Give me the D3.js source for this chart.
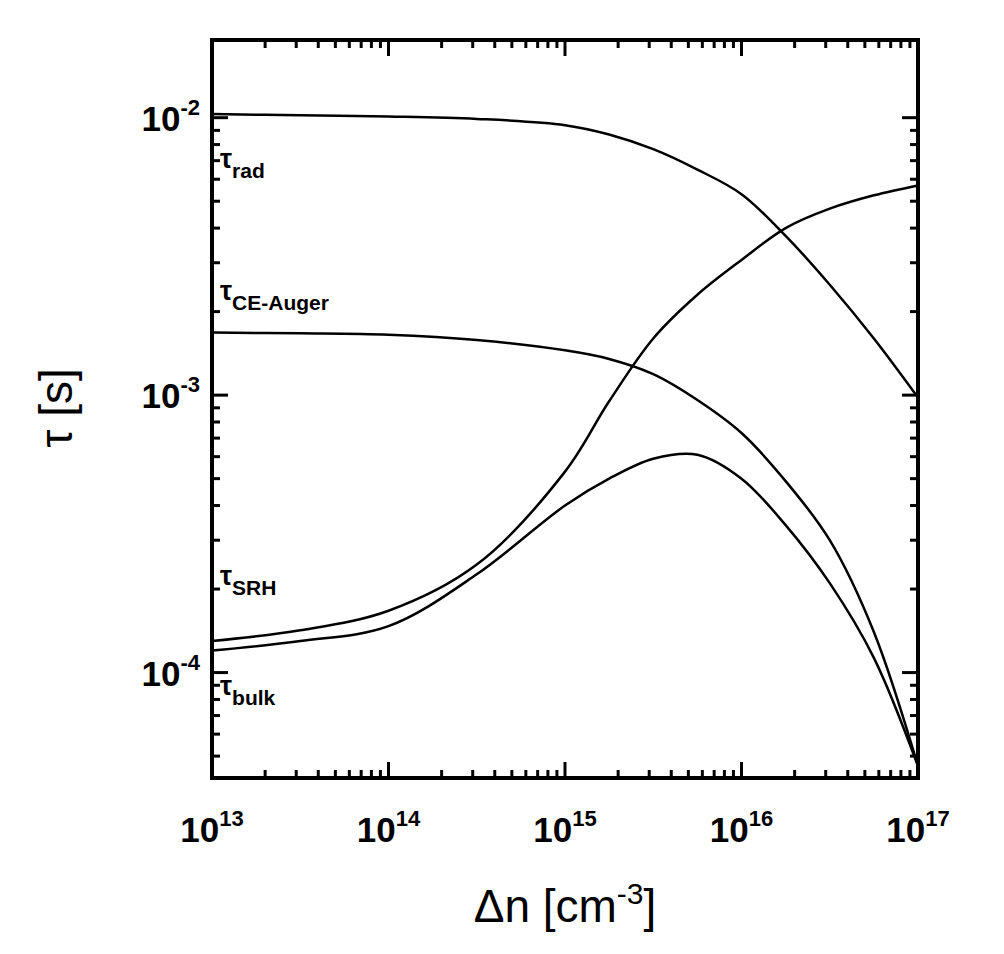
<!DOCTYPE html>
<html><head><meta charset="utf-8">
<script src="https://cdn.jsdelivr.net/npm/d3@7"></script>
<style>body{margin:0;background:#fff}svg{font-family:"Liberation Sans",Arial,sans-serif}</style>
</head><body><div id="chart"></div>
<script>
const logDn = [13, 13.5, 14, 14.5, 15, 15.25, 15.5, 15.75, 16, 16.25, 16.5, 16.75, 17];
const tauRad = [1.03e-2, 1.02e-2, 1.01e-2, 9.9e-3, 9.4e-3, 8.7e-3, 7.7e-3, 6.5e-3, 5.3e-3, 3.75e-3, 2.5e-3, 1.6e-3, 9.8e-4];
const tauAuger = [1.68e-3, 1.67e-3, 1.65e-3, 1.58e-3, 1.45e-3, 1.35e-3, 1.19e-3, 9.6e-4, 7.3e-4, 4.9e-4, 3.0e-4, 1.4e-4, 4.6e-5];
const tauSRH = [1.3e-4, 1.42e-4, 1.67e-4, 2.45e-4, 5.3e-4, 9.5e-4, 1.6e-3, 2.3e-3, 3.07e-3, 4.0e-3, 4.7e-3, 5.25e-3, 5.7e-3];
const tauBulk = [1.2e-4, 1.3e-4, 1.47e-4, 2.26e-4, 4.0e-4, 5.0e-4, 5.9e-4, 6.1e-4, 5.0e-4, 3.4e-4, 2.1e-4, 1.13e-4, 4.6e-5];
const xTicks = [13, 14, 15, 16, 17];
const yTicks = [-2, -3, -4];

const width = 1004, height = 954;
const plot = { left: 212, right: 918, top: 40, bottom: 778 };

const svg = d3.select("#chart").append("svg").attr("width", width).attr("height", height);

const x = d3.scaleLog().domain([1e13, 1e17]).range([plot.left, plot.right]);
const y = d3.scaleLog().domain([10 ** -4.38, 10 ** -1.72]).range([plot.bottom, plot.top]);

// minor ticks
const xMinor = [], yMinor = [];
for (let e = 13; e < 17; e++) for (let m = 2; m <= 9; m++) xMinor.push(m * 10 ** e);
for (let e = -5; e <= -2; e++) for (let m = 2; m <= 9; m++) {
  const v = m * 10 ** e;
  if (v > y.domain()[0] && v < y.domain()[1]) yMinor.push(v);
}

const g = svg.append("g").attr("stroke", "#000").attr("stroke-width", 3);
xTicks.forEach(e => {
  const px = x(10 ** e);
  g.append("line").attr("x1", px).attr("x2", px).attr("y1", plot.bottom).attr("y2", plot.bottom - 16);
  g.append("line").attr("x1", px).attr("x2", px).attr("y1", plot.top).attr("y2", plot.top + 16);
});
xMinor.forEach(v => {
  const px = x(v);
  g.append("line").attr("x1", px).attr("x2", px).attr("y1", plot.bottom).attr("y2", plot.bottom - 8);
  g.append("line").attr("x1", px).attr("x2", px).attr("y1", plot.top).attr("y2", plot.top + 8);
});
yTicks.forEach(e => {
  const py = y(10 ** e);
  g.append("line").attr("x1", plot.left).attr("x2", plot.left + 16).attr("y1", py).attr("y2", py);
  g.append("line").attr("x1", plot.right).attr("x2", plot.right - 16).attr("y1", py).attr("y2", py);
});
yMinor.forEach(v => {
  const py = y(v);
  g.append("line").attr("x1", plot.left).attr("x2", plot.left + 8).attr("y1", py).attr("y2", py);
  g.append("line").attr("x1", plot.right).attr("x2", plot.right - 8).attr("y1", py).attr("y2", py);
});
svg.append("rect").attr("x", plot.left).attr("y", plot.top)
  .attr("width", plot.right - plot.left).attr("height", plot.bottom - plot.top)
  .attr("fill", "none").attr("stroke", "#000").attr("stroke-width", 4);

// tick labels
xTicks.forEach(e => {
  const t = svg.append("text").attr("x", x(10 ** e)).attr("y", 842)
    .attr("text-anchor", "middle").attr("font-size", 35).attr("font-weight", "bold");
  t.append("tspan").text("10");
  t.append("tspan").attr("dy", -16).attr("font-size", 22).text(e);
});
yTicks.forEach(e => {
  const t = svg.append("text").attr("x", 200).attr("y", y(10 ** e) + 13)
    .attr("text-anchor", "end").attr("font-size", 35).attr("font-weight", "bold");
  t.append("tspan").text("10");
  t.append("tspan").attr("dy", -16).attr("font-size", 22).text(e);
});

// axis titles
const xt = svg.append("text").attr("x", 565).attr("y", 922).attr("text-anchor", "middle").attr("font-size", 46);
xt.append("tspan").text("Δn [cm");
xt.append("tspan").attr("dy", -18).attr("font-size", 30).text("-3");
xt.append("tspan").attr("dy", 18).text("]");
svg.append("text").attr("transform", "translate(72,408) rotate(-90)")
  .attr("text-anchor", "middle").attr("font-size", 46).text("τ [s]");

// curves
const line = d3.line().x(d => x(d[0])).y(d => y(d[1])).curve(d3.curveCatmullRom.alpha(0.5));
[tauRad, tauAuger, tauSRH, tauBulk].forEach(s => {
  svg.append("path").attr("d", line(logDn.map((e, i) => [10 ** e, s[i]])))
    .attr("fill", "none").attr("stroke", "#000").attr("stroke-width", 2.5);
});

// curve labels
const labels = [["rad", 168], ["CE-Auger", 300], ["SRH", 585], ["bulk", 695]];
labels.forEach(([sub, py]) => {
  const t = svg.append("text").attr("x", 220).attr("y", py).attr("font-size", 27).attr("font-weight", "bold");
  t.append("tspan").text("τ");
  t.append("tspan").attr("dy", 10).attr("font-size", 21).text(sub);
});
</script></body></html>
